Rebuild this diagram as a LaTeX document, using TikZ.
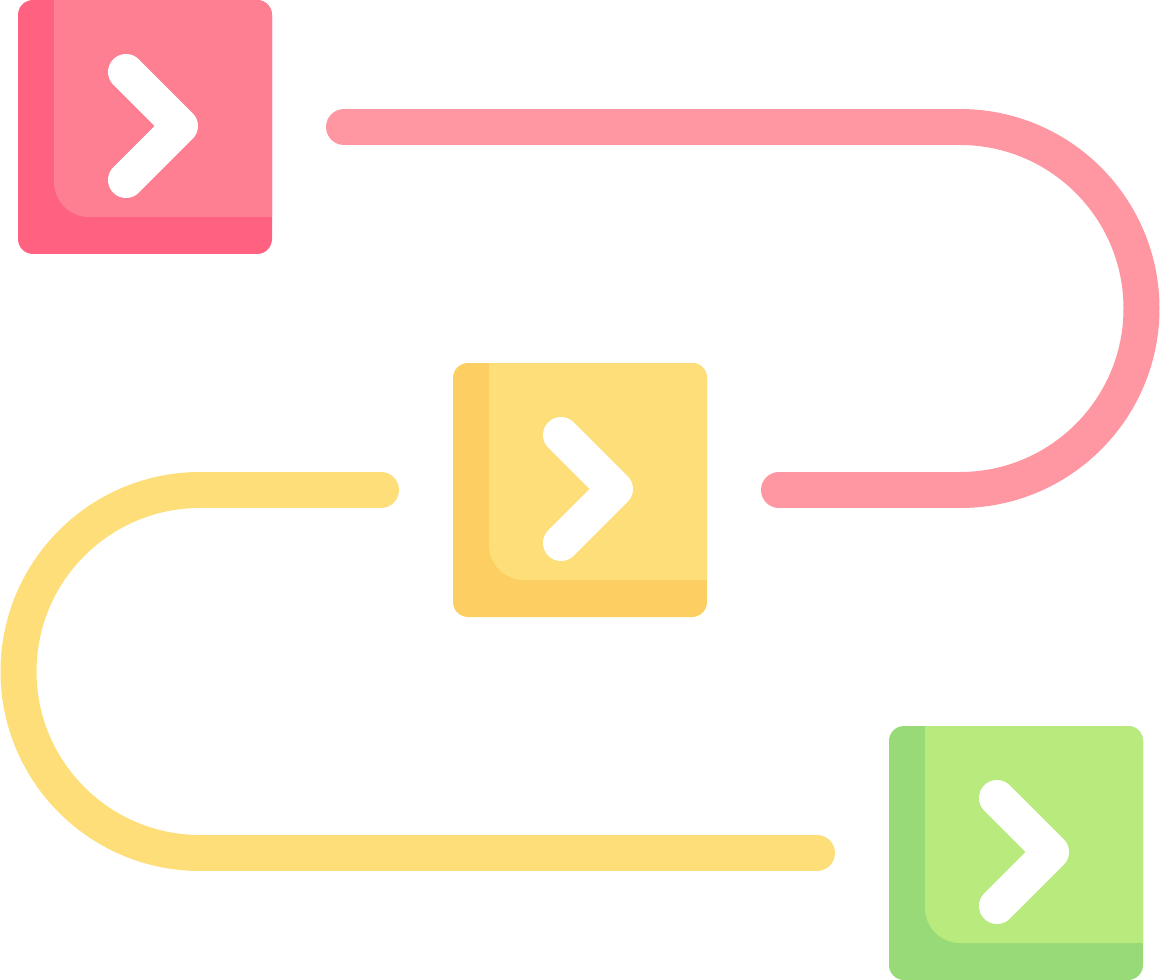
\documentclass[tikz,border=0pt]{standalone}
\usepackage{xcolor}
\definecolor{redlt}{HTML}{FF7F92}
\definecolor{reddk}{HTML}{FF6180}
\definecolor{redtrack}{HTML}{FF97A3}
\definecolor{yellt}{HTML}{FDDE78}
\definecolor{yeldk}{HTML}{FDCF62}
\definecolor{grnlt}{HTML}{B8EA7D}
\definecolor{grndk}{HTML}{97DA77}

\begin{document}
\begin{tikzpicture}[x=0.02cm,y=-0.02cm,
        track/.style={line width=0.72cm,line cap=round},
        chevron/.style={white,line width=0.72cm,line cap=round,line join=round}]
     \useasboundingbox (0,0) rectangle (1161,980);
     % winding tracks
     \coordinate (redstart) at (344,127);
     \coordinate (redend) at (779,490);
     \coordinate (yelstart) at (381,490);
     \coordinate (yelend) at (817,853);
     \draw[track,redtrack] (redstart) -- (960,127)
        arc[start angle=-90,end angle=90,radius=181.5] -- (redend);
     \draw[track,yellt] (yelstart) -- (200,490)
        arc[start angle=270,end angle=90,radius=181.5] -- (yelend);
     % step tiles
     \foreach \bx/\by/\lt/\dk in {18/0/redlt/reddk,453/363/yellt/yeldk,889/726/grnlt/grndk}{
       \fill[\dk,rounded corners=0.3cm] (\bx,\by) rectangle +(254,254);
       \begin{scope}
         \clip[rounded corners=0.3cm] (\bx,\by) rectangle +(254,254);
         \fill[\lt,rounded corners=0.7cm] (\bx+36,\by-50) rectangle (\bx+300,\by+217);
       \end{scope}
       \draw[chevron] (\bx+108,\by+72) -- (\bx+162,\by+126) -- (\bx+108,\by+180);
     }
    \end{tikzpicture}
\end{document}
